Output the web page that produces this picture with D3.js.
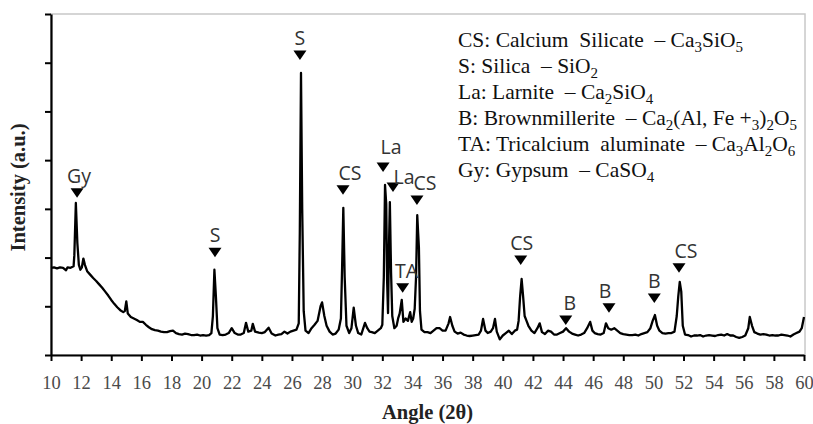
<!DOCTYPE html>
<html>
<head>
<meta charset="utf-8">
<script src="https://cdn.jsdelivr.net/npm/d3@7"></script>
<style>
  html, body { margin: 0; padding: 0; background: #fff; }
  svg { display: block; }
  .serif { font-family: "Liberation Serif", "Times New Roman", Tinos, "DejaVu Serif", serif; }
</style>
</head>
<body>
<svg id="chart" width="813" height="424"></svg>
<script>
// ---- data ----
const angles = [
  10.0,10.2,10.4,10.6,10.8,11.0,11.1,11.3,11.5,11.55,11.65,11.75,11.85,11.95,12.05,12.15,12.25,12.4,12.6,12.8,
  13.0,13.2,13.4,13.6,13.8,14.0,14.2,14.4,14.6,14.8,14.9,15.0,15.1,15.3,15.5,15.7,15.9,16.1,16.3,16.5,
  16.7,16.9,17.1,17.3,17.5,17.7,17.9,18.1,18.3,18.5,18.7,18.9,19.1,19.3,19.5,19.7,19.9,20.1,20.3,20.5,
  20.65,20.75,20.85,20.95,21.05,21.2,21.4,21.6,21.8,22.0,22.2,22.4,22.6,22.8,22.95,23.1,23.3,23.4,23.55,23.8,
  24.0,24.2,24.45,24.65,24.9,25.1,25.3,25.5,25.7,25.9,26.1,26.3,26.45,26.52,26.6,26.68,26.78,26.9,27.1,27.3,
  27.5,27.7,27.9,28.0,28.15,28.3,28.5,28.7,28.9,29.1,29.25,29.33,29.41,29.5,29.62,29.8,29.95,30.1,30.25,30.4,
  30.6,30.85,31.0,31.15,31.3,31.5,31.7,31.9,32.0,32.1,32.18,32.26,32.32,32.38,32.44,32.5,32.58,32.66,32.8,32.95,
  33.05,33.15,33.29,33.4,33.55,33.7,33.85,33.95,34.05,34.15,34.24,34.32,34.38,34.43,34.5,34.6,34.8,35.0,35.2,35.4,
  35.6,35.8,36.0,36.2,36.4,36.5,36.65,36.8,37.0,37.2,37.4,37.6,37.8,38.0,38.2,38.4,38.55,38.69,38.85,39.0,
  39.2,39.35,39.48,39.6,39.8,40.0,40.2,40.4,40.6,40.8,40.95,41.05,41.15,41.25,41.35,41.45,41.55,41.7,41.9,42.1,
  42.3,42.45,42.6,42.8,43.0,43.2,43.4,43.6,43.8,44.0,44.2,44.4,44.6,44.8,45.0,45.2,45.4,45.6,45.8,45.95,
  46.1,46.3,46.5,46.7,46.85,47.0,47.2,47.4,47.6,47.8,48.0,48.2,48.4,48.6,48.8,49.0,49.2,49.4,49.6,49.8,
  49.95,50.1,50.25,50.4,50.6,50.8,51.0,51.2,51.4,51.55,51.65,51.75,51.85,51.95,52.1,52.3,52.5,52.7,52.9,53.1,
  53.3,53.5,53.7,53.9,54.1,54.3,54.5,54.7,54.9,55.1,55.3,55.5,55.7,55.9,56.1,56.3,56.4,56.55,56.7,56.9,
  57.1,57.3,57.5,57.7,57.9,58.1,58.3,58.5,58.7,58.9,59.1,59.3,59.5,59.7,59.85,60.0
];
const intensity = [
  1.79,1.80,1.78,1.80,1.79,1.74,1.80,1.79,1.82,2.05,3.12,2.30,1.85,1.75,1.80,1.98,1.85,1.72,1.65,1.58,
  1.52,1.45,1.38,1.30,1.22,1.13,1.05,0.98,0.92,0.88,0.90,1.10,0.85,0.78,0.75,0.72,0.68,0.68,0.62,0.57,
  0.53,0.51,0.50,0.48,0.47,0.47,0.49,0.50,0.45,0.43,0.42,0.44,0.43,0.41,0.41,0.42,0.40,0.41,0.40,0.41,
  0.45,0.80,1.75,1.20,0.55,0.42,0.41,0.42,0.45,0.55,0.45,0.42,0.42,0.45,0.66,0.48,0.50,0.64,0.48,0.46,
  0.45,0.47,0.56,0.44,0.40,0.42,0.43,0.48,0.44,0.48,0.50,0.52,0.65,2.50,5.79,3.00,0.90,0.50,0.45,0.55,
  0.62,0.70,1.00,1.08,0.80,0.60,0.48,0.42,0.44,0.52,0.75,1.80,3.02,1.60,0.60,0.45,0.55,0.97,0.60,0.45,
  0.42,0.66,0.55,0.48,0.47,0.45,0.50,0.55,0.62,1.60,3.49,3.10,1.50,0.86,2.20,3.14,1.70,0.80,0.55,0.60,
  0.75,0.85,1.13,0.68,0.75,0.70,0.88,0.68,0.75,0.95,1.60,2.87,2.50,2.20,0.90,0.52,0.47,0.47,0.45,0.50,
  0.55,0.55,0.50,0.50,0.65,0.78,0.60,0.48,0.44,0.46,0.42,0.40,0.39,0.40,0.41,0.42,0.50,0.74,0.50,0.45,
  0.48,0.55,0.74,0.48,0.32,0.40,0.45,0.50,0.43,0.50,0.52,0.70,1.20,1.56,1.20,0.80,0.72,0.60,0.50,0.45,
  0.55,0.65,0.47,0.43,0.50,0.48,0.42,0.42,0.45,0.48,0.55,0.48,0.44,0.42,0.40,0.42,0.45,0.55,0.68,0.50,
  0.45,0.43,0.42,0.45,0.65,0.55,0.52,0.55,0.50,0.45,0.43,0.42,0.41,0.41,0.42,0.40,0.43,0.45,0.47,0.55,
  0.70,0.82,0.60,0.50,0.45,0.44,0.45,0.45,0.48,0.80,1.20,1.50,1.30,0.60,0.42,0.41,0.38,0.40,0.40,0.41,
  0.38,0.40,0.41,0.40,0.39,0.41,0.42,0.40,0.43,0.40,0.40,0.37,0.35,0.37,0.40,0.55,0.78,0.60,0.47,0.44,
  0.42,0.43,0.42,0.40,0.41,0.40,0.40,0.42,0.41,0.40,0.38,0.42,0.45,0.48,0.55,0.78
];

const xTicks = [10,12,14,16,18,20,22,24,26,28,30,32,34,36,38,40,42,44,46,48,50,52,54,56,58,60];
const yTicks = [0,1,2,3,4,5,6,7];

const markLabels = ["Gy","S","S","CS","La","La","TA","CS","CS","B","B","B","CS"];
const markAngles = [11.73,20.89,26.53,29.39,32.05,32.71,33.35,34.30,41.19,44.18,47.05,50.06,51.70];
const markLevels = [3.33,2.11,6.16,3.39,3.86,3.45,1.38,3.18,1.95,0.72,0.97,1.17,1.79];
const labelShift = [2,0,0,7,8,11,4,8,1,4,-4,0,7];
const labelLift  = [10,10,10,10,13,3,10,10,10,10,10,10,10];

const legendLines = [
  "CS: Calcium  Silicate  \u2013 Ca_3SiO_5",
  "S: Silica  \u2013 SiO_2",
  "La: Larnite  \u2013 Ca_2SiO_4",
  "B: Brownmillerite  \u2013 Ca_2(Al, Fe +_3)_2O_5",
  "TA: Tricalcium  aluminate  \u2013 Ca_3Al_2O_6",
  "Gy: Gypsum  \u2013 CaSO_4"
];

const xTitle = "Angle (2\u03b8)";
const yTitle = "Intensity (a.u.)";

// ---- drawing ----
const svg = d3.select("#chart");
const pLeft = 51, pRight = 804, pTop = 14, pBottom = 355;

const x = d3.scaleLinear().domain([10, 60]).range([pLeft, pRight]);
const y = d3.scaleLinear().domain([0, 7]).range([pBottom, pTop]);

// plot frame (light gray)
svg.append("rect")
  .attr("x", pLeft).attr("y", pTop)
  .attr("width", pRight - pLeft + 1).attr("height", pBottom - pTop)
  .attr("fill", "none").attr("stroke", "#c8c8c8").attr("stroke-width", 1.5);

// line
const pts = angles.map((a, i) => [a, intensity[i]]);
svg.append("path")
  .datum(pts)
  .attr("fill", "none")
  .attr("stroke", "#000")
  .attr("stroke-width", 2.3)
  .attr("stroke-linejoin", "round")
  .attr("d", d3.line().x(d => x(d[0])).y(d => y(d[1])));

// axes
const xAxis = svg.append("g")
  .attr("transform", `translate(0,${pBottom})`)
  .call(d3.axisBottom(x).tickValues(xTicks).tickFormat(d3.format("d"))
    .tickSize(6).tickSizeOuter(0).tickPadding(15));
xAxis.attr("font-family", null);
xAxis.select(".domain").attr("stroke", "#000").attr("stroke-width", 2.2);
xAxis.selectAll(".tick line").attr("stroke", "#000").attr("stroke-width", 2);
xAxis.selectAll(".tick text")
  .attr("class", "serif")
  .attr("font-size", 18.5).attr("fill", "#4a4a4a");

const yAxis = svg.append("g")
  .attr("transform", `translate(${pLeft},0)`)
  .call(d3.axisLeft(y).tickValues(yTicks).tickFormat("").tickSize(6).tickSizeOuter(0));
yAxis.select(".domain").attr("stroke", "#000").attr("stroke-width", 2.2);
yAxis.selectAll(".tick line").attr("stroke", "#000").attr("stroke-width", 2);

// axis titles
svg.append("text")
  .attr("class", "serif")
  .attr("x", (pLeft + pRight) / 2).attr("y", 419)
  .attr("text-anchor", "middle")
  .attr("font-weight", "bold").attr("font-size", 20.5).attr("fill", "#222")
  .text(xTitle);

svg.append("text")
  .attr("class", "serif")
  .attr("transform", `translate(25,${(pTop + pBottom) / 2 + 3}) rotate(-90)`)
  .attr("text-anchor", "middle")
  .attr("font-weight", "bold").attr("font-size", 20.5).attr("fill", "#222")
  .text(yTitle);

// peak markers
const marks = svg.append("g");
markLabels.forEach((lab, i) => {
  const cx = x(markAngles[i]);
  const cy = y(markLevels[i]);
  marks.append("path")
    .attr("d", `M${cx - 6.5},${cy - 4.5}L${cx + 6.5},${cy - 4.5}L${cx},${cy + 5}Z`)
    .attr("fill", "#000");
  marks.append("text")
    .attr("x", cx + labelShift[i]).attr("y", cy - labelLift[i])
    .attr("text-anchor", "middle")
    .attr("font-family", "'Open Sans', 'Noto Sans', sans-serif")
    .attr("font-size", 19.5).attr("fill", "#333")
    .text(lab);
});

// legend
const leg = svg.append("g")
  .attr("font-size", 21.5).attr("fill", "#111");
legendLines.forEach((line, i) => {
  const t = leg.append("text")
    .attr("class", "serif")
    .attr("x", 458).attr("y", 47 + i * 26)
    .attr("xml:space", "preserve")
    .style("white-space", "pre");
  const parts = line.split(/_(\d)/);
  let pendingUp = false;
  parts.forEach((p, j) => {
    if (p === "") return;
    if (j % 2 === 1) {
      t.append("tspan").attr("font-size", 15)
        .attr("dy", pendingUp ? 0 : 5).text(p);
      pendingUp = true;
    } else {
      t.append("tspan").attr("dy", pendingUp ? -5 : 0).text(p);
      pendingUp = false;
    }
  });
});
</script>
</body>
</html>
